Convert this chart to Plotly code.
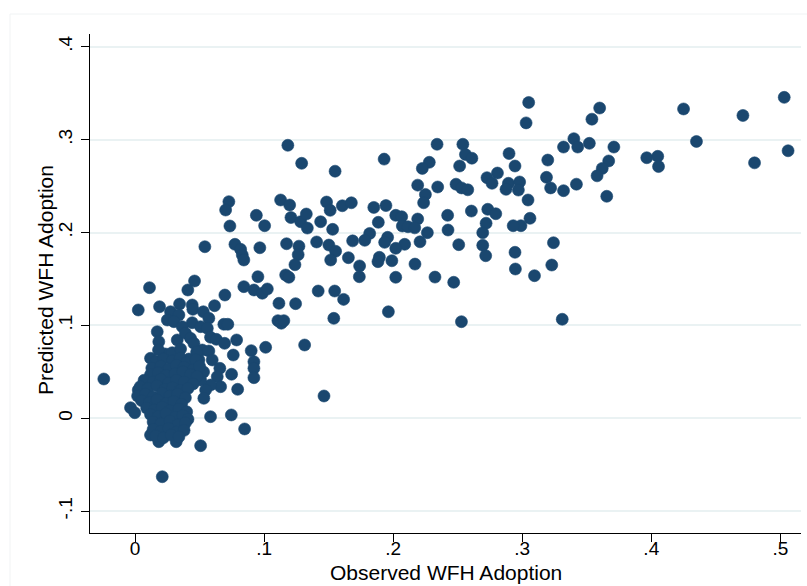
import plotly.graph_objects as go

# Observed vs predicted work-from-home adoption
observed = [
    # upper-right group
    0.332, 0.340, 0.343, 0.352, 0.354, 0.360, 0.371, 0.367, 0.362, 0.358, 0.342, 0.332,
    0.3655, 0.3965, 0.405, 0.4056, 0.425, 0.435, 0.471, 0.480, 0.503, 0.506, 0.331,
    # middle group
    0.305, 0.303, 0.234, 0.254, 0.256, 0.261, 0.2515, 0.193, 0.155, 0.228, 0.2226, 0.219,
    0.2345, 0.225, 0.2236, 0.2487, 0.253, 0.2578, 0.2727, 0.2766, 0.2808, 0.2898, 0.2944,
    0.2893, 0.2874, 0.298, 0.297, 0.3045, 0.306, 0.299, 0.293, 0.3198, 0.3188, 0.322,
    0.1606, 0.1676, 0.185, 0.1944, 0.202, 0.2066, 0.219, 0.1885, 0.1818, 0.178, 0.1686,
    0.1957, 0.1934, 0.2071, 0.2115, 0.2167, 0.2265, 0.2208, 0.2089, 0.202, 0.199, 0.1893,
    0.1882, 0.174, 0.1738, 0.1653, 0.2169, 0.202, 0.2324, 0.2469, 0.2422, 0.2425, 0.2508,
    0.2606, 0.2733, 0.2795, 0.272, 0.2694, 0.2694, 0.2717, 0.2944, 0.2947, 0.3095, 0.3229,
    0.3242, 0.1547, 0.1616, 0.154, 0.1963, 0.2529,
    # lower-middle group
    0.0727, 0.0702, 0.0735, 0.0541, 0.0774, 0.0818, 0.0831, 0.0843, 0.094, 0.1004, 0.0967,
    0.0952, 0.1128, 0.1198, 0.1184, 0.1291, 0.1208, 0.1283, 0.1327, 0.1335, 0.1438, 0.1484,
    0.1512, 0.1531, 0.1407, 0.1174, 0.127, 0.1264, 0.1239, 0.1502, 0.1554, 0.1516, 0.1167,
    0.1192, 0.0843, 0.0921, 0.0986, 0.1025, 0.1115, 0.1244, 0.1419, 0.1107, 0.1133, 0.1153,
    0.1314, 0.1464,
    # low-adoption group
    0.0696, 0.0025, 0.019, 0.0345, 0.0443, 0.0448, 0.0616, 0.0275, 0.034, 0.025, 0.0301,
    0.0529, 0.0572, 0.0443, 0.0366, 0.0508, 0.056, 0.0688, 0.0719, 0.0172, 0.0184, 0.0327,
    0.0391, 0.043, 0.0456, 0.0585, 0.063, 0.0694, 0.0787, 0.090, 0.0761, 0.0521, 0.0572,
    0.012, 0.0236, 0.0288, 0.0417, 0.0495, 0.0598, 0.0657, 0.0748, 0.0637, 0.0663, 0.0585,
    0.0547, 0.0533, 0.0795, 0.0921, 0.0921, 0.0921, -0.0242, 0.0025, -0.0035, -0.0002,
    0.0585, 0.0746, 0.0849, 0.0508, 0.0319, 0.012, 0.0184, 0.0211, 0.0112, 0.0461, 0.0409,
    0.1012, 0.0182, 0.0353, 0.0477, 0.0531, 0.0508,
    # dense core
    0.016, 0.022, 0.029, 0.035, 0.040, 0.047,
    0.013, 0.020, 0.026, 0.032, 0.038, 0.045, 0.050,
    0.012, 0.018, 0.024, 0.031, 0.037, 0.043, 0.048,
    0.007, 0.014, 0.020, 0.026, 0.032, 0.038, 0.045,
    0.004, 0.010, 0.017, 0.023, 0.029, 0.035, 0.041,
    0.002, 0.008, 0.014, 0.021, 0.027, 0.033, 0.039,
    0.005, 0.011, 0.017, 0.024, 0.030, 0.036,
    0.009, 0.015, 0.021, 0.027, 0.034, 0.040,
    0.012, 0.018, 0.024, 0.031, 0.037, 0.041,
    0.014, 0.020, 0.027, 0.033, 0.039,
    0.014, 0.020, 0.026, 0.032, 0.038,
    0.016, 0.022, 0.028, 0.034,
]

predicted = [
    # upper-right group
    0.292, 0.301, 0.292, 0.296, 0.322, 0.334, 0.292, 0.277, 0.269, 0.261, 0.252, 0.245,
    0.239, 0.2805, 0.282, 0.271, 0.333, 0.298, 0.326, 0.275, 0.3455, 0.288, 0.1066,
    # middle group
    0.340, 0.318, 0.295, 0.295, 0.284, 0.280, 0.2716, 0.279, 0.266, 0.2756, 0.269, 0.251,
    0.249, 0.241, 0.232, 0.252, 0.248, 0.246, 0.259, 0.253, 0.264, 0.285, 0.2716,
    0.253, 0.2465, 0.2544, 0.2457, 0.235, 0.2153, 0.2073, 0.2073, 0.278, 0.2594, 0.248,
    0.2288, 0.232, 0.227, 0.229, 0.2185, 0.217, 0.2145, 0.211, 0.199, 0.1916, 0.191,
    0.1948, 0.1894, 0.207, 0.2062, 0.205, 0.1998, 0.190, 0.1873, 0.183, 0.1696, 0.1733,
    0.1686, 0.164, 0.1524, 0.1729, 0.166, 0.1518, 0.152, 0.1464, 0.2185, 0.2027, 0.1869,
    0.2231, 0.225, 0.2202, 0.210, 0.1998, 0.1862, 0.175, 0.1787, 0.1607, 0.1535, 0.165,
    0.189, 0.137, 0.128, 0.1076, 0.1147, 0.104,
    # lower-middle group
    0.2332, 0.2242, 0.207, 0.1847, 0.1873, 0.1819, 0.1758, 0.1704, 0.2185, 0.2073, 0.1836,
    0.1524, 0.235, 0.2296, 0.2939, 0.2745, 0.2161, 0.2116, 0.2199, 0.2048, 0.2116, 0.2328,
    0.2239, 0.2034, 0.1898, 0.1879, 0.1853, 0.1761, 0.1653, 0.1865, 0.1798, 0.1704, 0.1543,
    0.1518, 0.1417, 0.1381, 0.1346, 0.1392, 0.1238, 0.1234, 0.137, 0.1051, 0.1023, 0.1051,
    0.0789, 0.024,
    # low-adoption group
    0.1327, 0.1166, 0.1201, 0.123, 0.122, 0.1173, 0.1212, 0.1147, 0.1112, 0.1058, 0.104,
    0.1147, 0.1076, 0.1029, 0.0986, 0.0986, 0.0969, 0.1012, 0.1012, 0.0932, 0.0825, 0.0843,
    0.0915, 0.0861, 0.0807, 0.0872, 0.085, 0.0807, 0.0843, 0.0728, 0.0681, 0.0735, 0.0724,
    0.0646, 0.0692, 0.0706, 0.0638, 0.0628, 0.0628, 0.0538, 0.0474, 0.0448, 0.034, 0.0358,
    0.0305, 0.0215, 0.0312, 0.0609, 0.0538, 0.0437, 0.0423, 0.0305, 0.0114, 0.006,
    0.0017, 0.0036, -0.0115, -0.0295, -0.0252, -0.018, -0.0252, -0.0629, 0.1406, 0.1478, 0.1381,
    0.0764, 0.0735, 0.0746, 0.0714, 0.0499, 0.0413,
    # dense core
    0.061, 0.064, 0.062, 0.065, 0.060, 0.063,
    0.054, 0.056, 0.053, 0.057, 0.055, 0.052, 0.056,
    0.047, 0.049, 0.046, 0.048, 0.050, 0.047, 0.045,
    0.041, 0.039, 0.042, 0.038, 0.041, 0.039, 0.037,
    0.034, 0.032, 0.035, 0.031, 0.033, 0.030, 0.032,
    0.024, 0.026, 0.023, 0.027, 0.024, 0.026, 0.022,
    0.019, 0.017, 0.020, 0.016, 0.018, 0.015,
    0.011, 0.009, 0.012, 0.008, 0.010, 0.007,
    0.004, 0.002, 0.005, 0.001, 0.003, -0.001,
    -0.004, -0.006, -0.003, -0.007, -0.005,
    -0.012, -0.014, -0.011, -0.015, -0.013,
    -0.019, -0.021, -0.018, -0.020,
]

x_ticks = [0, 0.1, 0.2, 0.3, 0.4, 0.5]
x_tick_labels = ["0", ".1", ".2", ".3", ".4", ".5"]
y_ticks = [-0.1, 0, 0.1, 0.2, 0.3, 0.4]
y_tick_labels = ["-.1", "0", ".1", ".2", ".3", ".4"]

x_title = "Observed WFH Adoption"
y_title = "Predicted WFH Adoption"

NAVY = "#1a476f"
FONT = "Liberation Sans, Arial, sans-serif"

fig = go.Figure()
fig.add_trace(go.Scatter(
    x=observed, y=predicted, mode="markers",
    marker=dict(size=12, color=NAVY, line=dict(width=0.6, color=NAVY)),
    hoverinfo="x+y", showlegend=False,
))

fig.update_layout(
    width=807, height=586,
    margin=dict(l=90, r=6, t=34, b=53, autoexpand=False),
    paper_bgcolor="white", plot_bgcolor="white",
    font=dict(family=FONT, size=19, color="black"),
    shapes=[dict(type="rect", xref="paper", yref="paper",
                 x0=-0.1125, x1=1.05, y0=-0.12, y1=1.04,
                 line=dict(color="#f1f3f4", width=1), layer="below")],
    annotations=[
        dict(text=x_title, xref="paper", yref="paper", x=0.5, y=-0.080,
             xanchor="center", yanchor="middle", showarrow=False,
             font=dict(family=FONT, size=21, color="black")),
        dict(text=y_title, xref="paper", yref="paper", x=-0.0633, y=0.507,
             xanchor="center", yanchor="middle", showarrow=False, textangle=-90,
             font=dict(family=FONT, size=21, color="black")),
    ],
)

fig.update_xaxes(
    range=[-0.0349, 0.516], tickvals=x_ticks, ticktext=x_tick_labels,
    showgrid=False, zeroline=False, showline=True, linecolor="black", linewidth=1,
    ticks="outside", ticklen=8, tickcolor="black", tickwidth=1, automargin=False,
    ticklabelstandoff=-10,
    tickfont=dict(family=FONT, size=19, color="black"),
)
fig.update_yaxes(
    range=[-0.1235, 0.4137], tickvals=y_ticks, ticktext=y_tick_labels, tickangle=-90,
    showgrid=True, gridcolor="#eaf2f3", gridwidth=1.5,
    zeroline=False, showline=True, linecolor="black", linewidth=1,
    ticks="outside", ticklen=8, tickcolor="black", tickwidth=1, automargin=False,
    ticklabelstandoff=1,
    tickfont=dict(family=FONT, size=19, color="black"),
)

fig.write_html("out.html")
